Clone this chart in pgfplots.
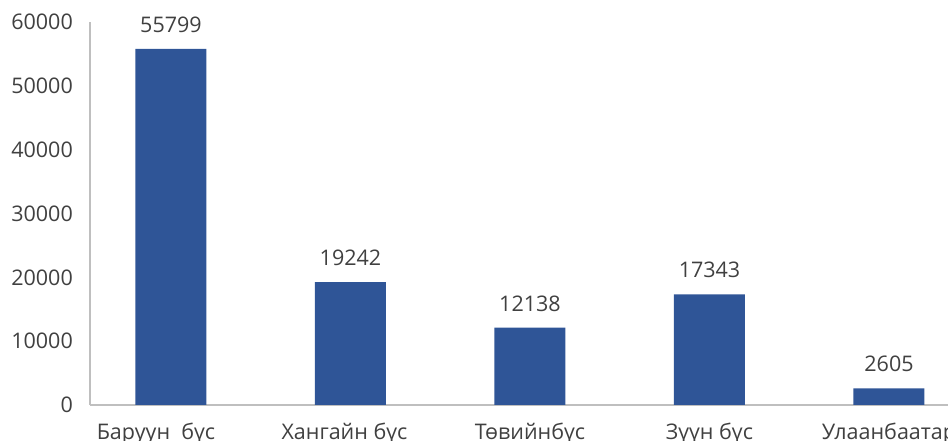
\documentclass[border=0pt]{standalone}
\usepackage{pgfplots}
\pgfplotsset{compat=1.18}
\usepackage{fontspec}
\setmainfont{Open Sans}

\definecolor{barblue}{HTML}{2F5597}
\definecolor{txt}{HTML}{404040}
\definecolor{axgray}{HTML}{BFBFBF}

\begin{document}
\begin{tikzpicture}
\path[use as bounding box, clip] (0,0) rectangle (948pt,441pt);
\begin{axis}[
    at={(90pt,36pt)}, anchor=south west,
    scale only axis,
    width=897pt, height=383pt,
    ybar, bar width=71pt,
    xmin=-0.451, xmax=4.546,
    ymin=0, ymax=60000,
    xtick=data,
    xticklabels={\hspace*{-30pt}Баруун\ \ бүс, \hspace*{-12pt}Хангайн бүс, Төвийнбүс, Зүүн бүс, Улаанбаатар},
    ytick={0,10000,...,60000},
    axis x line*=bottom, axis y line*=left,
    axis line style={axgray, line width=1.5pt},
    major tick length=0pt,
    scaled y ticks=false,
    /pgf/number format/assume math mode=true,
    yticklabel={\pgfmathprintnumber[fixed,1000 sep={}]{\tick}},
    ticklabel style={font=\fontsize{21.5}{26}\selectfont, text=txt},
    yticklabel style={inner sep=0pt, xshift=-17pt},
    xticklabel style={inner sep=0pt, anchor=north, yshift=-18pt},
    nodes near coords,
    nodes near coords style={font=\fontsize{21.5}{26}\selectfont, text=txt, inner sep=0pt, yshift=16pt,
        /pgf/number format/fixed, /pgf/number format/1000 sep={}, /pgf/number format/assume math mode=true},
    clip=false,
]
\addplot[fill=barblue, draw=none] coordinates {
    (0,55799) (1,19242) (2,12138) (3,17343) (4,2605)
};
\end{axis}
\end{tikzpicture}
\end{document}
